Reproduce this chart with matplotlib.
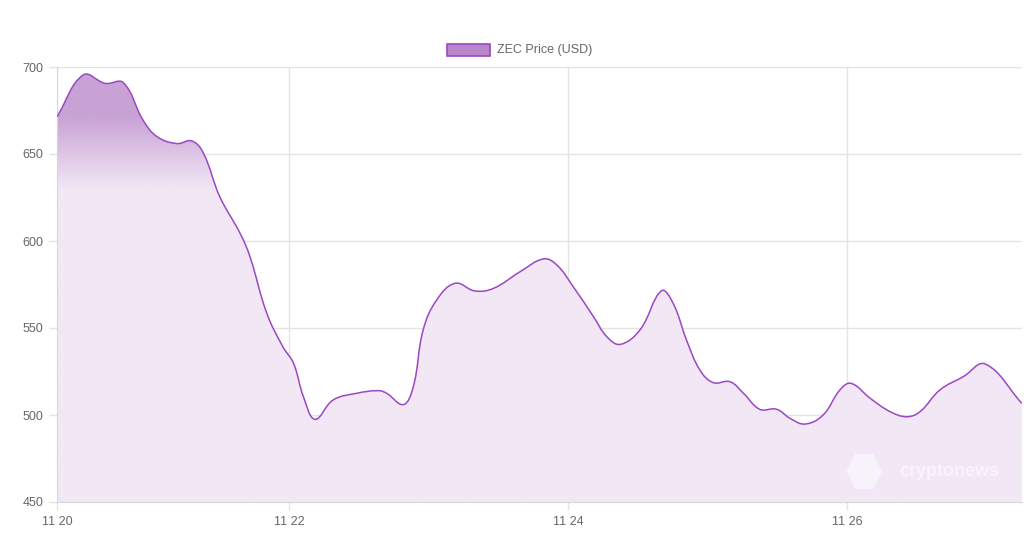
import numpy as np
import matplotlib
matplotlib.use('Agg')
import matplotlib.pyplot as plt
from matplotlib.path import Path
from matplotlib.patches import PathPatch, Rectangle, Polygon

plt.rcParams['font.family'] = ['Liberation Sans', 'DejaVu Sans']

# hours since 11-20 00:00, price
hours = [8.0, 12.5, 16.3, 19.4, 22.8, 25.2, 28.6, 31.2, 33.2, 36.0, 39.5, 41.2,
         44.1, 46.9, 48.7, 50.4, 52.4, 55.5, 59.6, 63.3, 64.7, 67.6, 69.3, 71.0,
         73.3, 76.5, 79.9, 83.1, 87.7, 91.7, 94.0, 96.8, 100.3, 102.6, 104.9,
         108.3, 112.0, 114.0, 116.3, 118.6, 120.9, 123.8, 126.1, 128.9, 131.8,
         134.1, 136.7, 139.8, 142.7, 144.6, 147.9, 151.3, 154.2, 156.5, 159.9,
         163.9, 167.7, 174.0]
price = [671.4, 695.4, 690.6, 691.0, 669.5, 660.0, 656.0, 657.5, 650.4, 625.5,
         604.4, 591.0, 558.4, 539.0, 529.7, 510.5, 497.5, 508.6, 512.5, 514.0,
         512.5, 506.0, 516.3, 548.9, 566.0, 575.7, 571.3, 572.8, 582.4, 589.7,
         586.2, 573.8, 556.5, 545.0, 540.6, 548.9, 571.4, 564.2, 543.1, 525.9,
         518.6, 519.1, 512.5, 503.3, 503.3, 498.1, 494.8, 500.0, 514.4, 518.2,
         509.6, 502.0, 499.0, 502.0, 514.4, 522.0, 529.3, 506.7]

tick_hours = [8, 48, 96, 144]
tick_labels = ['11 20', '11 22', '11 24', '11 26']
y_ticks = [450, 500, 550, 600, 650, 700]

line_color = '#9a48c4'
dark = np.array([200, 162, 213]) / 255
light = np.array([242, 231, 245]) / 255

fig = plt.figure(figsize=(10.24, 5.38), dpi=100)
ax = fig.add_axes([57 / 1024, 1 - 502 / 538, 965 / 1024, 435 / 538])
x0, x1 = hours[0], hours[0] + 965 / 5.8125
ax.set_xlim(x0, x1)
ax.set_ylim(450, 700)
fig.canvas.draw()

# smooth curve like chart.js (tension 0.4), done in pixel space
pts = ax.transData.transform(np.column_stack([hours, price]))
n = len(pts)
verts = [pts[0]]
codes = [Path.MOVETO]
cps = []
for i in range(n):
    p0 = pts[max(i - 1, 0)]
    p1 = pts[i]
    p2 = pts[min(i + 1, n - 1)]
    d01 = np.hypot(*(p1 - p0))
    d12 = np.hypot(*(p2 - p1))
    tot = d01 + d12 if d01 + d12 > 0 else 1
    fa = 0.4 * d01 / tot
    fb = 0.4 * d12 / tot
    cps.append((p1 - fa * (p2 - p0), p1 + fb * (p2 - p0)))
for i in range(1, n):
    verts += [cps[i - 1][1], cps[i][0], pts[i]]
    codes += [Path.CURVE4] * 3
verts = ax.transData.inverted().transform(np.array(verts))
line_path = Path(verts, codes)

fill_verts = np.vstack([verts, [[hours[-1], 450], [hours[0], 450], [hours[0], 450]]])
fill_codes = codes + [Path.LINETO, Path.LINETO, Path.CLOSEPOLY]
fill_path = Path(fill_verts, fill_codes)

# gradient fill
yy = np.linspace(450, 700, 400)
w = np.clip((yy - 630) / (672 - 630), 0, 1)
col = light[None, :] * (1 - w[:, None]) + dark[None, :] * w[:, None]
img = np.repeat(col[:, None, :], 2, axis=1)
im = ax.imshow(img, extent=[x0, x1, 450, 700], origin='lower', aspect='auto',
               zorder=1, interpolation='bilinear')
clip = PathPatch(fill_path, transform=ax.transData, facecolor='none', edgecolor='none')
ax.add_patch(clip)
im.set_clip_path(clip)

ax.add_patch(PathPatch(line_path, facecolor='none', edgecolor=line_color, lw=1.1, zorder=3))

ax.set_xticks(tick_hours)
ax.set_xticklabels(tick_labels)
ax.set_yticks(y_ticks)
ax.grid(True, color='#e4e4e4', lw=1, zorder=0)
ax.set_axisbelow(True)
ax.tick_params(axis='both', colors='#666666', labelsize=9, length=6, width=1, pad=4)
ax.tick_params(axis='both', color='#e4e4e4')
for s in ['top', 'right']:
    ax.spines[s].set_visible(False)
for s in ['left', 'bottom']:
    ax.spines[s].set_color('#d6d6d6')

# watermark
ax.text(0.873, 0.07, 'cryptonews', transform=ax.transAxes, color='white', alpha=0.55,
        fontsize=13, fontweight='bold', va='center', ha='left', zorder=4)
ax.add_patch(Polygon([[0.818, 0.07], [0.827, 0.11], [0.846, 0.11], [0.855, 0.07],
                      [0.846, 0.03], [0.827, 0.03]], closed=True, transform=ax.transAxes,
                     facecolor='white', alpha=0.5, edgecolor='none', zorder=4))

# legend
fig.patches.append(Rectangle((447 / 1024, 1 - 56 / 538), 43 / 1024, 12 / 538,
                             transform=fig.transFigure, facecolor='#b986ca',
                             edgecolor=line_color, lw=1.2))
fig.text(497 / 1024, 1 - 50 / 538, 'ZEC Price (USD)', color='#666666', fontsize=9,
         va='center', ha='left')

fig.savefig('out.png', dpi=100)
